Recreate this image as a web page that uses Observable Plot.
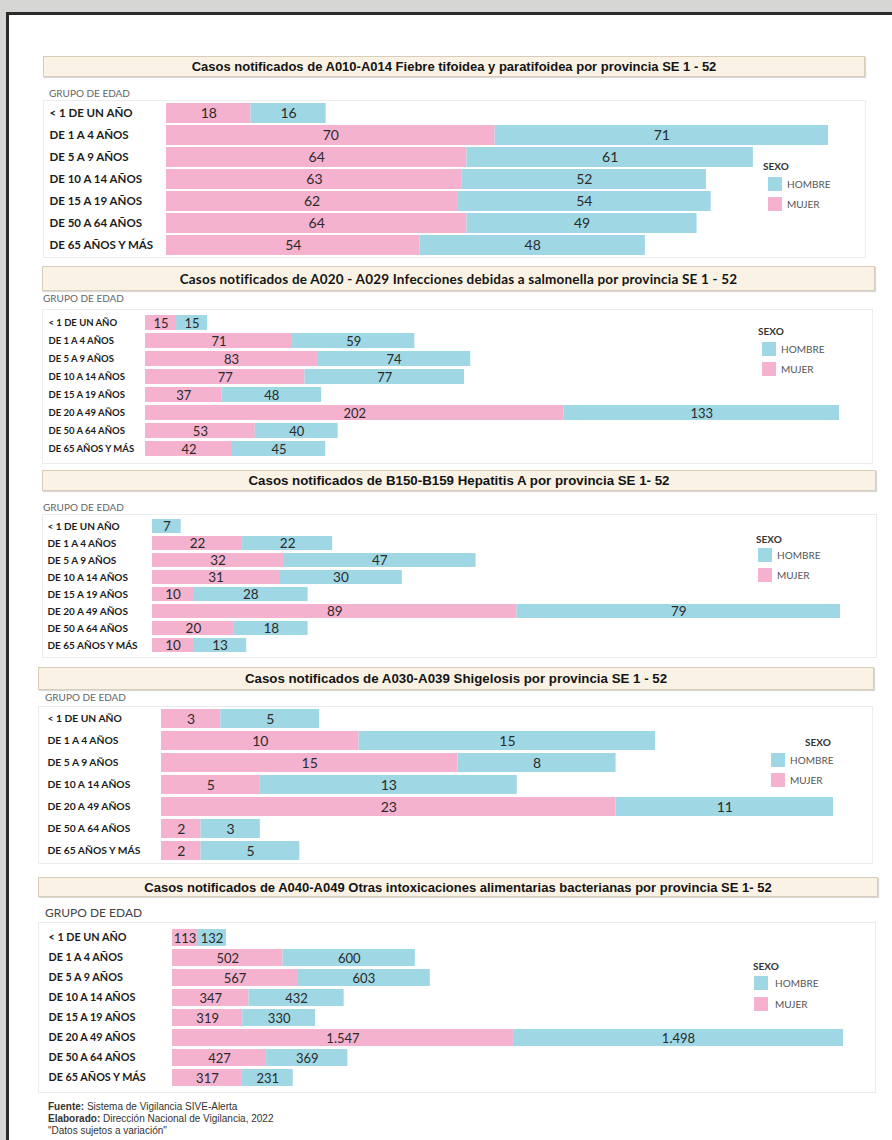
<!DOCTYPE html>
<html><head><meta charset="utf-8">
<script src="https://cdn.jsdelivr.net/npm/d3@7"></script>
<script src="https://cdn.jsdelivr.net/npm/@observablehq/plot@0.6"></script>
<style>
html,body{margin:0;padding:0;background:#d6d7d5;overflow:hidden;}
#page{position:relative;width:892px;height:1140px;overflow:hidden;background:#d6d7d5;}
#sheet{position:absolute;left:6px;top:12px;width:900px;height:1200px;background:#fff;border-left:3px solid #2b2b2b;border-top:3px solid #2b2b2b;box-sizing:border-box;}
.title{position:absolute;background:#faf3e5;border:1px solid #d8cdb9;box-shadow:1px 1px 1px rgba(0,0,0,0.15);box-sizing:border-box;display:flex;align-items:center;justify-content:center;font-weight:bold;color:#141414;white-space:nowrap;}
.grp{position:absolute;font-family:Lato,sans-serif;font-size:10px;color:#666;line-height:1;transform:translateY(-50%);white-space:nowrap;}
.box{position:absolute;border:1px solid #ececec;box-sizing:border-box;}
.plot{position:absolute;}
.leg{position:absolute;font-family:Lato,sans-serif;font-size:10px;line-height:1;white-space:nowrap;}
.foot{position:absolute;left:48px;font-family:"Liberation Sans",Arial,sans-serif;font-size:10px;color:#333;line-height:1;transform:translateY(-50%);white-space:nowrap;}
</style></head>
<body><div id="page"><div id="sheet"></div></div>
<script>
// ---------- DATA ----------
const sexes = ["MUJER", "HOMBRE"];
const legendOrder = ["HOMBRE", "MUJER"];

const agesFiebre = ["< 1 DE UN AÑO","DE 1 A 4 AÑOS","DE 5 A 9 AÑOS","DE 10 A 14 AÑOS","DE 15 A 19 AÑOS","DE 50 A 64 AÑOS","DE 65 AÑOS Y MÁS"];
const fiebreMujer  = [18, 70, 64, 63, 62, 64, 54];
const fiebreHombre = [16, 71, 61, 52, 54, 49, 48];

const agesSalmonella = ["< 1 DE UN AÑO","DE 1 A 4 AÑOS","DE 5 A 9 AÑOS","DE 10 A 14 AÑOS","DE 15 A 19 AÑOS","DE 20 A 49 AÑOS","DE 50 A 64 AÑOS","DE 65 AÑOS Y MÁS"];
const salmonellaMujer  = [15, 71, 83, 77, 37, 202, 53, 42];
const salmonellaHombre = [15, 59, 74, 77, 48, 133, 40, 45];

const agesHepatitis = ["< 1 DE UN AÑO","DE 1 A 4 AÑOS","DE 5 A 9 AÑOS","DE 10 A 14 AÑOS","DE 15 A 19 AÑOS","DE 20 A 49 AÑOS","DE 50 A 64 AÑOS","DE 65 AÑOS Y MÁS"];
const hepatitisMujer  = [null, 22, 32, 31, 10, 89, 20, 10];
const hepatitisHombre = [7, 22, 47, 30, 28, 79, 18, 13];

const agesShigelosis = ["< 1 DE UN AÑO","DE 1 A 4 AÑOS","DE 5 A 9 AÑOS","DE 10 A 14 AÑOS","DE 20 A 49 AÑOS","DE 50 A 64 AÑOS","DE 65 AÑOS Y MÁS"];
const shigelosisMujer  = [3, 10, 15, 5, 23, 2, 2];
const shigelosisHombre = [5, 15, 8, 13, 11, 3, 5];

const agesIntox = ["< 1 DE UN AÑO","DE 1 A 4 AÑOS","DE 5 A 9 AÑOS","DE 10 A 14 AÑOS","DE 15 A 19 AÑOS","DE 20 A 49 AÑOS","DE 50 A 64 AÑOS","DE 65 AÑOS Y MÁS"];
const intoxMujer  = [113, 502, 567, 347, 319, 1547, 427, 317];
const intoxHombre = [132, 600, 603, 432, 330, 1498, 369, 231];

const titles = [
  "Casos notificados de A010-A014 Fiebre tifoidea y paratifoidea por provincia SE 1 - 52",
  "Casos notificados de A020 - A029 Infecciones debidas a salmonella por provincia SE 1 - 52",
  "Casos notificados de B150-B159 Hepatitis A por provincia SE 1- 52",
  "Casos notificados de A030-A039 Shigelosis por provincia SE 1 - 52",
  "Casos notificados de A040-A049 Otras intoxicaciones alimentarias bacterianas por provincia SE 1- 52"
];
const groupLabel = "GRUPO DE EDAD";
const legendTitle = "SEXO";
const footLines = [
  ["Fuente:", " Sistema de Vigilancia SIVE-Alerta"],
  ["Elaborado:", " Dirección Nacional de Vigilancia, 2022"],
  ["", "\"Datos sujetos a variación\""]
];

// ---------- STYLE / LAYOUT ----------
const PINK = "#f5b2cf", BLUE = "#9fd8e4";
const narrow = "'Liberation Sans',Arial,sans-serif";
const panels = [
  {ages: agesFiebre, m: fiebreMujer, h: fiebreHombre,
   t:{l:43,t:56,w:822,h:21,font:narrow,size:13,ls:0}, g:{x:49,y:93,size:10,color:"#666"},
   p:{l:43,t:100,w:823,h:157,ml:123,mr:38,pad:0.1,lx:6,lf:11.5,vf:14},
   lg:{sx:763,sy:166,swx:768,st1:177,st2:197,tx:787}},
  {ages: agesSalmonella, m: salmonellaMujer, h: salmonellaHombre,
   t:{l:42,t:266,w:833,h:25,font:"Lato,sans-serif",size:13.5,ls:0.2}, g:{x:43,y:298,size:10,color:"#666"},
   p:{l:42,t:309,w:831,h:154,ml:103,mr:34,pad:0.16,lx:6,lf:9.5,vf:13},
   lg:{sx:758,sy:331,swx:762,st1:342,st2:362,tx:781}},
  {ages: agesHepatitis, m: hepatitisMujer, h: hepatitisHombre,
   t:{l:42,t:470,w:834,h:21,font:narrow,size:13.3,ls:0}, g:{x:43,y:507,size:10,color:"#666"},
   p:{l:42,t:514,w:835,h:143,ml:110,mr:37,pad:0.15,lx:5,lf:10,vf:13.5},
   lg:{sx:756,sy:539,swx:758,st1:548,st2:568,tx:777}},
  {ages: agesShigelosis, m: shigelosisMujer, h: shigelosisHombre,
   t:{l:38,t:667,w:836,h:23,font:narrow,size:13.3,ls:0}, g:{x:45,y:697,size:10,color:"#666"},
   p:{l:38,t:706,w:835,h:157,ml:123,mr:40,pad:0.13,lx:9,lf:10.3,vf:14},
   lg:{sx:805,sy:742,swx:771,st1:753,st2:773,tx:790}},
  {ages: agesIntox, m: intoxMujer, h: intoxHombre,
   t:{l:38,t:877,w:840,h:20,font:narrow,size:13,ls:0}, g:{x:45,y:913,size:12,color:"#444"},
   p:{l:38,t:922,w:838,h:170,ml:134,mr:33,pad:0.15,lx:10,lf:10.8,vf:13},
   lg:{sx:753,sy:966,swx:754,st1:976,st2:997,tx:775}}
];

const es = d3.formatLocale({decimal: ",", thousands: ".", grouping: [3], currency: ["", " €"]});
const fmt = es.format(",d");

const page = document.getElementById("page");
function el(cls, css, html) {
  const d = document.createElement("div");
  d.className = cls;
  Object.assign(d.style, css);
  if (html != null) d.innerHTML = html;
  page.appendChild(d);
  return d;
}

panels.forEach((P, k) => {
  el("title", {left:P.t.l+"px", top:P.t.t+"px", width:P.t.w+"px", height:P.t.h+"px",
               fontFamily:P.t.font, fontSize:P.t.size+"px", letterSpacing:P.t.ls+"px"}, titles[k]);
  el("grp", {left:P.g.x+"px", top:P.g.y+"px", fontSize:P.g.size+"px", color:P.g.color}, groupLabel);
  el("box", {left:P.p.l+"px", top:P.p.t+"px", width:P.p.w+"px", height:(P.p.h+1)+"px"});

  const data = P.ages.flatMap((a, i) => [
    {age: a, sex: "MUJER", value: P.m[i]},
    {age: a, sex: "HOMBRE", value: P.h[i]}
  ]).filter(d => d.value != null && d.value > 0);

  const chart = Plot.plot({
    width: P.p.w, height: P.p.h,
    marginLeft: P.p.ml, marginRight: P.p.mr, marginTop: 0, marginBottom: 0,
    style: {fontFamily: "Lato, sans-serif", background: "transparent", overflow: "visible"},
    x: {axis: null},
    y: {domain: P.ages, padding: P.p.pad},
    color: {domain: sexes, range: [PINK, BLUE]},
    marks: [
      Plot.barX(data, Plot.stackX({x: "value", y: "age", fill: "sex", order: sexes})),
      Plot.text(data, Plot.stackX({x: "value", y: "age", z: "sex", order: sexes,
        text: d => fmt(d.value), fontSize: P.p.vf, fill: "#2a2a2a", dy: 0.5})),
      Plot.axisY({tickSize: 0, tickPadding: 0, textAnchor: "start", dx: P.p.lx - P.p.ml,
        fontSize: P.p.lf, fontWeight: "bold", fill: "#1c1c1c", label: null})
    ]
  });
  const wrap = el("plot", {left:P.p.l+"px", top:P.p.t+"px"});
  wrap.appendChild(chart);

  // legend
  el("leg", {left:P.lg.sx+"px", top:(P.lg.sy-5)+"px", fontWeight:"bold", color:"#333"}, legendTitle);
  legendOrder.forEach((s, j) => {
    const top = j === 0 ? P.lg.st1 : P.lg.st2;
    el("leg", {left:P.lg.swx+"px", top:top+"px", width:"14px", height:"14px",
               background: s === "MUJER" ? PINK : BLUE});
    el("leg", {left:P.lg.tx+"px", top:(top+2)+"px", color:"#555"}, s);
  });
});

const footY = [1107, 1119, 1131];
footLines.forEach((f, i) => {
  el("foot", {top: footY[i]+"px"}, (f[0] ? "<b>"+f[0]+"</b>" : "") + f[1]);
});
</script>
</body></html>
